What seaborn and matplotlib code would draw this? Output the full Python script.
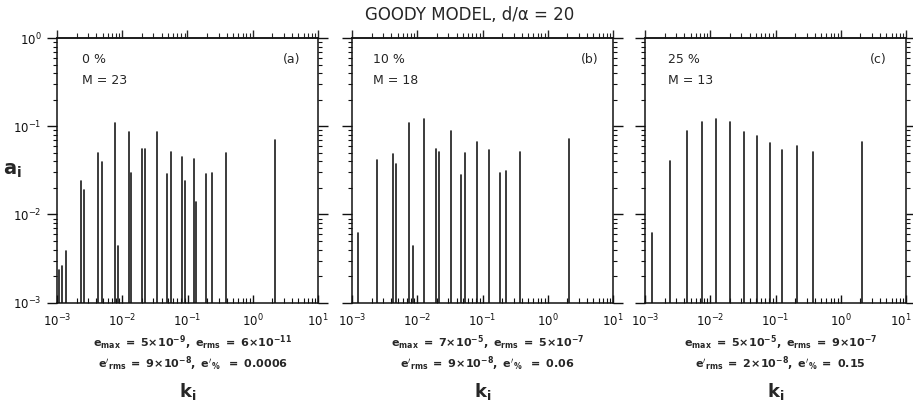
import numpy as np
import pandas as pd
import matplotlib
matplotlib.use("Agg")
import matplotlib.pyplot as plt
import matplotlib.transforms as mtransforms
import seaborn as sns

# ---------------- data ----------------
k_a = [0.00107, 0.00121, 0.00137, 0.00233, 0.00259, 0.00428, 0.00484, 0.00773,
       0.00869, 0.01268, 0.0136, 0.02005, 0.0223, 0.0337, 0.0479, 0.0551,
       0.0821, 0.0903, 0.1268, 0.1358, 0.1914, 0.2389, 0.392, 2.18]
a_a = [0.00235, 0.00263, 0.00389, 0.0240, 0.0191, 0.0494, 0.0391, 0.110,
       0.00440, 0.0861, 0.0293, 0.0548, 0.0553, 0.0861, 0.0286, 0.0507,
       0.0446, 0.0240, 0.0423, 0.01395, 0.0288, 0.0293, 0.0494, 0.0694]

k_b = [0.00125, 0.00242, 0.00420, 0.00467, 0.00747, 0.00851, 0.01268, 0.0193,
       0.0217, 0.0328, 0.0472, 0.0537, 0.0813, 0.1268, 0.1845, 0.228, 0.378, 2.10]
a_b = [0.00612, 0.0415, 0.0485, 0.0374, 0.108, 0.00443, 0.121, 0.0548,
       0.0512, 0.0891, 0.0278, 0.0502, 0.0659, 0.0543, 0.0293, 0.0309, 0.0512, 0.0713]

k_c = [0.00127, 0.00240, 0.00434, 0.00753, 0.01236, 0.0203, 0.0330, 0.0522,
       0.0810, 0.128, 0.210, 0.376, 2.13]
a_c = [0.00612, 0.0404, 0.0891, 0.111, 0.120, 0.112, 0.0861, 0.0782,
       0.0647, 0.0543, 0.0598, 0.0507, 0.0668]

pct_labels = ["0 %", "10 %", "25 %"]
m_labels = ["M = 23", "M = 18", "M = 13"]
panel_tags = ["(a)", "(b)", "(c)"]
err_line1 = [r"$\mathbf{e_{max}\ =\ 5{\times}10^{-9},\ e_{rms}\ =\ 6{\times}10^{-11}}$",
             r"$\mathbf{e_{max}\ =\ 7{\times}10^{-5},\ e_{rms}\ =\ 5{\times}10^{-7}}$",
             r"$\mathbf{e_{max}\ =\ 5{\times}10^{-5},\ e_{rms}\ =\ 9{\times}10^{-7}}$"]
err_line2 = [r"$\mathbf{e'_{rms}\ =\ 9{\times}10^{-8},\ e'_{\%}\ \ =\ 0.0006}$",
             r"$\mathbf{e'_{rms}\ =\ 9{\times}10^{-8},\ e'_{\%}\ \ =\ 0.06}$",
             r"$\mathbf{e'_{rms}\ =\ 2{\times}10^{-8},\ e'_{\%}\ =\ 0.15}$"]
xtick_vals = [1e-3, 1e-2, 1e-1, 1e0, 1e1]
xtick_labels = [r"$10^{-3}$", r"$10^{-2}$", r"$10^{-1}$", r"$10^{0}$", r"$10^{1}$"]
ytick_vals = [1e-3, 1e-2, 1e-1, 1e0]
ytick_labels = [r"$10^{-3}$", r"$10^{-2}$", r"$10^{-1}$", r"$10^{0}$"]
title = "GOODY MODEL, d/α = 20"
a_floor = 1e-3

# ---------------- style ----------------
sns.set_style("ticks")
plt.rcParams["font.family"] = ["DejaVu Sans"]
plt.rcParams["mathtext.default"] = "regular"
plt.rcParams["axes.linewidth"] = 1.1

W, H = 913, 405
fig = plt.figure(figsize=(W / 100, H / 100), dpi=100)

lefts = [57, 352, 645]
pw, ph = 261, 264.7
bottom_px = 102.3
pct_x = [0.096, 0.080, 0.088]
tag_x = [0.931, 0.943, 0.927]

panels = [(k_a, a_a), (k_b, a_b), (k_c, a_c)]
for i, (ks, vals) in enumerate(panels):
    ax = fig.add_axes([lefts[i] / W, bottom_px / H, pw / W, ph / H])
    ax.set_xscale("log")
    ax.set_yscale("log")
    n = len(ks)
    df = pd.DataFrame({
        "k": np.repeat(ks, 2),
        "a": np.ravel(np.column_stack([np.full(n, a_floor), vals])),
        "id": np.repeat(np.arange(n), 2),
    })
    sns.lineplot(data=df, x="k", y="a", units="id", estimator=None, sort=False,
                 color="#1a1a1a", lw=1.2, ax=ax, legend=False)
    ax.set_xlim(1e-3, 10)
    ax.set_ylim(1e-3, 1)
    ax.set_xlabel("")
    ax.set_ylabel("")
    ax.set_xticks(xtick_vals)
    ax.set_xticklabels(xtick_labels)
    ax.set_yticks(ytick_vals)
    ax.set_yticklabels(ytick_labels)
    ax.xaxis.set_minor_locator(matplotlib.ticker.LogLocator(base=10, subs=np.arange(2, 10), numticks=20))
    ax.yaxis.set_minor_locator(matplotlib.ticker.LogLocator(base=10, subs=np.arange(2, 10), numticks=20))
    ax.xaxis.set_minor_formatter(matplotlib.ticker.NullFormatter())
    ax.yaxis.set_minor_formatter(matplotlib.ticker.NullFormatter())

    ax.tick_params(axis="x", which="both", direction="in", bottom=True, top=False,
                   labelsize=8.5, pad=7, colors="#111111")
    ax.tick_params(axis="x", which="major", length=6, width=1.0)
    ax.tick_params(axis="x", which="minor", length=3.5, width=0.8)
    ax.tick_params(axis="y", which="both", direction="out", left=True, right=True,
                   labelleft=(i == 0), labelsize=8.5, pad=4, colors="#111111")
    ax.tick_params(axis="y", which="major", length=7, width=1.0)
    ax.tick_params(axis="y", which="minor", length=3, width=0.8)

    if i == 2:
        lab = ax.get_xticklabels()[-1]
        lab.set_transform(lab.get_transform() +
                          mtransforms.ScaledTranslation(-5 / 100, 0, fig.dpi_scale_trans))

    sec = ax.secondary_xaxis("top")
    sec.set_xticks(xtick_vals)
    sec.xaxis.set_minor_locator(matplotlib.ticker.LogLocator(base=10, subs=np.arange(2, 10), numticks=20))
    sec.tick_params(which="both", direction="out", labeltop=False)
    sec.tick_params(which="major", length=6, width=1.0)
    sec.tick_params(which="minor", length=3.5, width=0.8)
    sec.spines["top"].set_linewidth(1.1)

    for s in ax.spines.values():
        s.set_linewidth(1.1)
        s.set_color("#111111")

    ax.text(pct_x[i], 0.917, pct_labels[i], transform=ax.transAxes, fontsize=9,
            ha="left", va="center")
    ax.text(pct_x[i], 0.841, m_labels[i], transform=ax.transAxes, fontsize=9,
            ha="left", va="center")
    ax.text(tag_x[i], 0.917, panel_tags[i], transform=ax.transAxes, fontsize=9,
            ha="right", va="center")

    ax.text(0.52, -0.150, err_line1[i], transform=ax.transAxes, fontsize=8,
            ha="center", va="center")
    ax.text(0.52, -0.230, err_line2[i], transform=ax.transAxes, fontsize=8,
            ha="center", va="center")
    ax.text(0.50, -0.337, r"$\mathbf{k_i}$", transform=ax.transAxes, fontsize=13,
            ha="center", va="center")
    if i == 0:
        ax.text(-0.17, 0.50, r"$\mathbf{a_i}$", transform=ax.transAxes, fontsize=14,
                ha="center", va="center")

fig.text(470 / W, 1 - 15 / H, title, ha="center", va="center", fontsize=12)

fig.savefig("out.png", dpi=100)
